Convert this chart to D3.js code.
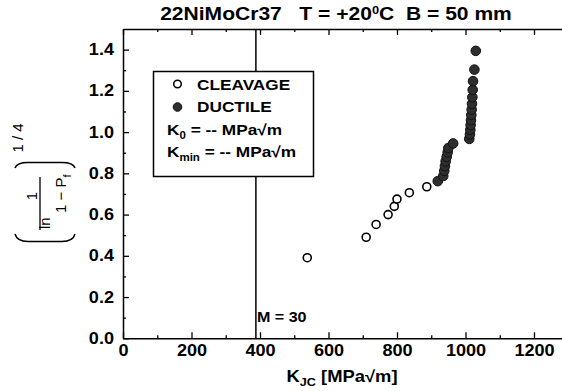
<!DOCTYPE html>
<html>
<head>
<meta charset="utf-8">
<script src="https://cdn.jsdelivr.net/npm/d3@7"></script>
<style>
  html, body { margin: 0; padding: 0; background: #fff; overflow: hidden; }
  svg { display: block; font-family: "Liberation Sans", Arial, sans-serif; }
</style>
</head>
<body>
<svg id="chart" width="562" height="391"></svg>
<script>
// Cleavage results (open symbols): K_JC and ranked probability ordinate
const cleavageK = [538, 710, 739, 774, 792, 800, 836, 887];
const cleavageY = [0.391, 0.490, 0.552, 0.600, 0.640, 0.675, 0.706, 0.735];

// Ductile results (filled symbols)
const ductileK = [919, 935, 938, 940, 942, 945, 948, 950, 964,
                  1011, 1013, 1014, 1015, 1016, 1017, 1018, 1019, 1020, 1021, 1022, 1026, 1030];
const ductileY = [0.762, 0.787, 0.812, 0.835, 0.858, 0.880, 0.902, 0.923, 0.945,
                  0.967, 0.989, 1.011, 1.034, 1.058, 1.083, 1.109, 1.137, 1.169, 1.205, 1.247, 1.303, 1.394];

// Axis ticks
const xTicks = [0, 200, 400, 600, 800, 1000, 1200];
const xMinor = [100, 300, 500, 700, 900, 1100];
const yTicks = [0.0, 0.2, 0.4, 0.6, 0.8, 1.0, 1.2, 1.4];
const yMinor = [0.1, 0.3, 0.5, 0.7, 0.9, 1.1, 1.3];

// Reference line position (K_JC) and its annotation
const refLineK = 388;
const refLabel = "M = 30";

const titleParts = [{ t: "22NiMoCr37   T = +20" }, { t: "0", size: 11, dy: -6 }, { t: "C  B = 50 mm" }];
const legendItems = ["CLEAVAGE", "DUCTILE"];

const svg = d3.select("#chart");
const SX = 1.15;     // horizontal stretch of the lettering
const TICK_SX = 1.13;

const x = d3.scaleLinear().domain([0, 1300]).range([123, 568.25]);
const y = d3.scaleLinear().domain([0, 1.5]).range([338.3, 29]);

function addText(parent, px, py, anchor, size, weight, parts, sx = SX) {
  const t = parent.append("text")
    .attr("transform", `translate(${px},${py}) scale(${sx},1)`)
    .attr("text-anchor", anchor)
    .attr("font-size", size)
    .attr("font-weight", weight)
    .attr("fill", "#000")
    .style("white-space", "pre");
  let shift = 0;
  parts.forEach(p => {
    const s = t.append("tspan").text(p.t);
    if (p.size) s.attr("font-size", p.size);
    const dy = (p.dy || 0) - shift;
    if (dy) s.attr("dy", dy);
    shift = p.dy || 0;
  });
  return t;
}

function styleAxis(g) {
  g.selectAll(".domain").attr("stroke", "#000").attr("stroke-width", 1.5);
  g.selectAll(".tick line").attr("stroke", "#000").attr("stroke-width", 1.3);
  g.selectAll(".tick text")
    .attr("font-size", 16)
    .attr("font-weight", "bold")
    .attr("fill", "#000")
    .attr("font-family", "Liberation Sans, Arial, sans-serif");
}

// Bottom axis
const gx = svg.append("g").attr("transform", `translate(0,${y(0)})`)
  .call(d3.axisBottom(x).tickValues(xTicks).tickSizeInner(-6).tickSizeOuter(0)
    .tickPadding(6).tickFormat(d3.format("d")));
styleAxis(gx);
gx.selectAll(".tick text").attr("transform", `scale(${TICK_SX},1)`);
const gxm = svg.append("g").attr("transform", `translate(0,${y(0)})`)
  .call(d3.axisBottom(x).tickValues(xMinor).tickSizeInner(-3).tickSizeOuter(0).tickFormat(""));
styleAxis(gxm);
gxm.select(".domain").remove();

// Top frame axis
const gt = svg.append("g").attr("transform", `translate(0,${y(1.5)})`)
  .call(d3.axisTop(x).tickValues(xTicks).tickSizeInner(-6).tickSizeOuter(0).tickFormat(""));
styleAxis(gt);
const gtm = svg.append("g").attr("transform", `translate(0,${y(1.5)})`)
  .call(d3.axisTop(x).tickValues(xMinor).tickSizeInner(-3).tickSizeOuter(0).tickFormat(""));
styleAxis(gtm);
gtm.select(".domain").remove();

// Left axis
const gy = svg.append("g").attr("transform", `translate(${x(0)},0)`)
  .call(d3.axisLeft(y).tickValues(yTicks).tickSizeInner(-6).tickSizeOuter(0)
    .tickPadding(8).tickFormat(d3.format(".1f")));
styleAxis(gy);
gy.selectAll(".tick text").attr("transform", `scale(${TICK_SX},1)`);
const gym = svg.append("g").attr("transform", `translate(${x(0)},0)`)
  .call(d3.axisLeft(y).tickValues(yMinor).tickSizeInner(-3).tickSizeOuter(0).tickFormat(""));
styleAxis(gym);
gym.select(".domain").remove();

// Right frame
svg.append("line")
  .attr("x1", x(1300)).attr("x2", x(1300)).attr("y1", y(0)).attr("y2", y(1.5))
  .attr("stroke", "#000").attr("stroke-width", 1.5);

// Vertical reference line
svg.append("line")
  .attr("x1", x(refLineK)).attr("x2", x(refLineK))
  .attr("y1", y(0)).attr("y2", y(1.5))
  .attr("stroke", "#000").attr("stroke-width", 1.5);
addText(svg, x(refLineK) + 1, 321.5, "start", 14, "bold", [{ t: refLabel }]);

// Data points
const plot = svg.append("g");
plot.selectAll("circle.cl").data(cleavageK.map((k, i) => [k, cleavageY[i]]))
  .join("circle").attr("class", "cl")
  .attr("cx", d => x(d[0])).attr("cy", d => y(d[1])).attr("r", 4)
  .attr("fill", "#fff").attr("stroke", "#000").attr("stroke-width", 1.6);
plot.selectAll("circle.du").data(ductileK.map((k, i) => [k, ductileY[i]]))
  .join("circle").attr("class", "du")
  .attr("cx", d => x(d[0])).attr("cy", d => y(d[1])).attr("r", 4.8)
  .attr("fill", "#2e2e2e").attr("stroke", "#111").attr("stroke-width", 1);

// Legend
const lg = svg.append("g");
lg.append("rect").attr("x", 153.5).attr("y", 71.5).attr("width", 160).attr("height", 105)
  .attr("fill", "#fff").attr("stroke", "#000").attr("stroke-width", 1.5);
lg.append("circle").attr("cx", 177.5).attr("cy", 84).attr("r", 3.8)
  .attr("fill", "#fff").attr("stroke", "#000").attr("stroke-width", 1.5);
lg.append("circle").attr("cx", 177.5).attr("cy", 107).attr("r", 4.3)
  .attr("fill", "#2e2e2e").attr("stroke", "#111").attr("stroke-width", 1);
addText(lg, 197, 89.5, "start", 15, "bold", [{ t: legendItems[0] }]);
addText(lg, 197, 112, "start", 15, "bold", [{ t: legendItems[1] }]);
addText(lg, 167, 134.5, "start", 15, "bold",
  [{ t: "K" }, { t: "0", size: 10, dy: 4 }, { t: " = -- MPa\u221Am" }]);
addText(lg, 167, 157, "start", 15, "bold",
  [{ t: "K" }, { t: "min", size: 10, dy: 4 }, { t: " = -- MPa\u221Am" }]);

// Title
addText(svg, 336, 20, "middle", 18, "bold", titleParts, 1.17);

// X axis title
addText(svg, 342, 382, "middle", 16, "bold",
  [{ t: "K" }, { t: "JC", size: 11, dy: 4 }, { t: " [MPa\u221Am]" }]);

// Y axis title: (ln 1/(1-Pf))^(1/4), rotated
const yl = svg.append("g").attr("font-size", 15);
function rotText(px, py, anchor, parts) {
  const t = yl.append("text")
    .attr("transform", `translate(${px},${py}) rotate(-90)`)
    .attr("text-anchor", anchor)
    .attr("fill", "#000")
    .style("white-space", "pre");
  let shift = 0;
  parts.forEach(p => {
    const s = t.append("tspan").text(p.t);
    if (p.size) s.attr("font-size", p.size);
    const dy = (p.dy || 0) - shift;
    if (dy) s.attr("dy", dy);
    shift = p.dy || 0;
  });
}
rotText(23, 138, "middle", [{ t: "1 / 4" }]);
rotText(50, 229, "start", [{ t: "ln" }]);
rotText(37, 196, "middle", [{ t: "1" }]);
rotText(66, 213, "start", [{ t: "1 \u2212 P" }, { t: "f", size: 11, dy: 5 }]);
yl.append("line").attr("x1", 40).attr("x2", 40).attr("y1", 177).attr("y2", 230)
  .attr("stroke", "#000").attr("stroke-width", 1.3);
yl.append("path").attr("d", "M15,234 Q17,241.5 28,241.5 L62,241.5 Q73,241.5 75,234")
  .attr("fill", "none").attr("stroke", "#000").attr("stroke-width", 1.5);
yl.append("path").attr("d", "M15,168 Q17,162.5 28,162.5 L62,162.5 Q73,162.5 75,168")
  .attr("fill", "none").attr("stroke", "#000").attr("stroke-width", 1.5);
</script>
</body>
</html>
